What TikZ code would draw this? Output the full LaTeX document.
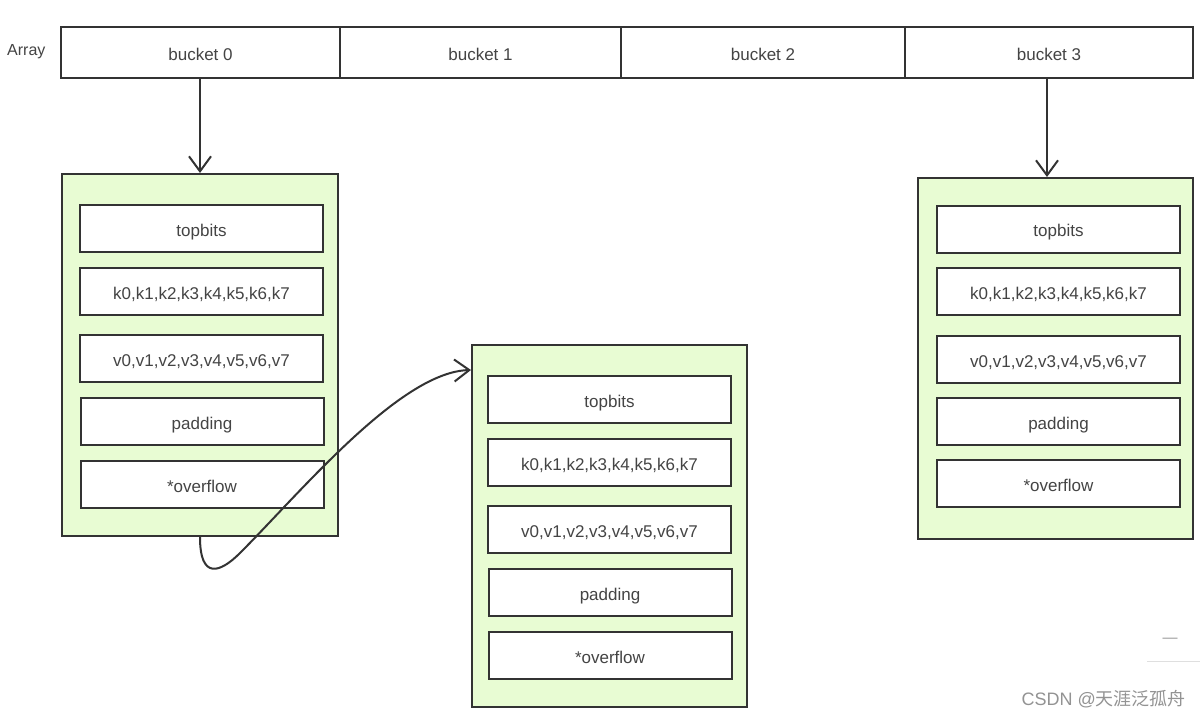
\documentclass[tikz,border=0pt]{standalone}
\usepackage{fontspec}
\setmainfont{Liberation Sans}
\newfontfamily\cjk{Noto Sans CJK SC}
\usetikzlibrary{arrows.meta,calc}
\definecolor{ln}{HTML}{333333}
\definecolor{tx}{HTML}{444444}
\definecolor{gfill}{HTML}{E8FCD3}
\begin{document}
\begin{tikzpicture}[x=1pt,y=-1pt,
  every node/.style={text=tx, font=\fontsize{17}{20}\selectfont, inner sep=0pt, text height=15pt, text depth=0pt},
  cell/.style={draw=ln, line width=2pt, fill=white, minimum height=51pt},
  grp/.style={draw=ln, line width=2pt, fill=gfill, minimum width=276pt, minimum height=362pt},
  slot/.style={draw=ln, line width=2pt, fill=white, minimum width=243pt, minimum height=47pt},
  arr/.style={draw=ln, line width=2pt, -{Straight Barb[length=15pt,width=22pt,line width=2pt]}}]
\useasboundingbox (0,0) rectangle (1200,716);
\fill[white] (0,0) rectangle (1200,716);

\node[anchor=west, font=\fontsize{16}{19}\selectfont] (arr) at (7,47.5) {Array};
\node[cell, minimum width=279pt] (b0) at (200.5,52.5) {bucket 0};
\node[cell, minimum width=281pt] (b1) at (480.5,52.5) {bucket 1};
\node[cell, minimum width=284pt] (b2) at (763,52.5) {bucket 2};
\node[cell, minimum width=288pt] (b3) at (1049,52.5) {bucket 3};

% left bucket
\node[grp] (lb) at (200,355) {};
\node[slot] (l1) at (201.5,228.5) {topbits};
\node[slot] (l2) at (201.5,291.5) {k0,k1,k2,k3,k4,k5,k6,k7};
\node[slot] (l3) at (201.5,358.5) {v0,v1,v2,v3,v4,v5,v6,v7};
\node[slot] (l4) at (202,421.5) {padding};
\node[slot] (l5) at (202,484.5) {*overflow};

% middle bucket (overflow)
\node[grp, minimum width=275pt] (mb) at (609.5,526) {};
\node[slot] (m1) at (609.5,399.5) {topbits};
\node[slot] (m2) at (609.5,462.5) {k0,k1,k2,k3,k4,k5,k6,k7};
\node[slot] (m3) at (609.5,529.5) {v0,v1,v2,v3,v4,v5,v6,v7};
\node[slot] (m4) at (610,592.5) {padding};
\node[slot] (m5) at (610,655.5) {*overflow};

% right bucket
\node[grp, minimum width=275pt, minimum height=361pt] (rb) at (1055.5,358.5) {};
\node[slot] (r1) at (1058.5,229) {topbits};
\node[slot] (r2) at (1058.5,291.5) {k0,k1,k2,k3,k4,k5,k6,k7};
\node[slot] (r3) at (1058.5,359.5) {v0,v1,v2,v3,v4,v5,v6,v7};
\node[slot] (r4) at (1058.5,421.5) {padding};
\node[slot] (r5) at (1058.5,483.5) {*overflow};

% connectors
\draw[arr] (b0.south -| lb.north) -- (lb.north);
\coordinate (a3) at (1047,0);
\draw[arr] (b3.south -| a3) -- (rb.north -| a3);
\coordinate (cstart) at (200,537);
\coordinate (cmid) at (240,553);
\coordinate (cend) at (471,370);
\draw[arr] (cstart) .. controls (200,580) and (220,573) .. (cmid)
  .. controls (300,493) and (400,372) .. (cend);

% page artefacts
\node[text=gray!80, font=\fontsize{15}{18}\selectfont] (dash) at (1170,635) {—};
\draw[gray!25, line width=1pt] (1147,661) -- (1200,661);
\node[anchor=east, text=gray!85, font=\fontsize{18}{20}\selectfont] (wm) at (1186,698) {CSDN @{\cjk 天涯泛孤舟}};
\end{tikzpicture}
\end{document}
